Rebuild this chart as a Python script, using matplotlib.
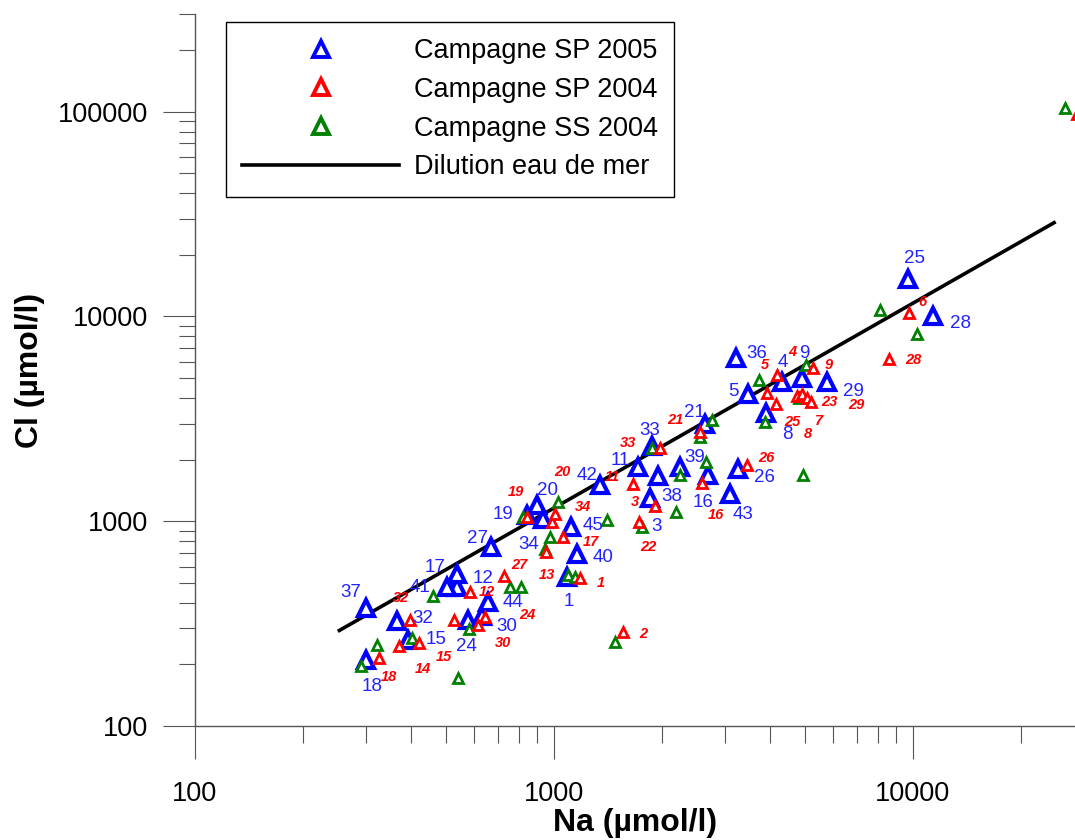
import matplotlib
matplotlib.use("Agg")
import matplotlib.pyplot as plt
from matplotlib.lines import Line2D
from matplotlib.ticker import LogLocator, NullFormatter

plt.rcParams['font.family'] = ['Liberation Sans', 'DejaVu Sans']

# ---------------- data ----------------
# Campagne SP 2005 (blue)
blue_ids = [1, 3, 4, 5, 8, 9, 11, 12, 15, 16, 17, 18, 19, 20, 21, 24, 25, 26, 27, 28,
            29, 30, 32, 33, 34, 36, 37, 38, 39, 40, 41, 42, 43, 44, 45]
blue_na = [1090, 1950, 4320, 3480, 3900, 4910, 1720, 538, 393, 2690, 538, 300, 842, 898,
           2640, 577, 9700, 3260, 669, 11400, 5770, 631, 366, 1880, 933, 3220, 300, 1850,
           2250, 1160, 504, 1340, 3100, 656, 1117]
blue_cl = [537, 1670, 4760, 4200, 3360, 4980, 1830, 475, 262, 1690, 555, 211, 1078, 1206,
           2970, 331, 15300, 1790, 752, 10100, 4760, 343, 327, 2320, 1020, 6300, 375, 1305,
           1850, 688, 475, 1510, 1365, 401, 942]

# Campagne SP 2004 (red)
red_ids = ['18', '14', '15', '32', '', '30', '24', '12', '27', '13', '17', '34', '20', '19',
           '1', '11', '33', '3', '22', '2', '21', '16', '26', '4', '5', '25', '9', '8', '7',
           '23', '29', '6', '28', '']
red_na = [326, 371, 421, 398, 527, 615, 643, 584, 727, 951, 1061, 989, 1008, 842,
          1183, 1662, 1976, 1914, 1727, 1559, 2554, 2587, 3453, 4184, 3926, 4159, 5272, 4758, 4913,
          5073, 5205, 9760, 8584, 28600]
red_cl = [216, 245, 253, 331, 331, 310, 339, 449, 543, 711, 842, 997, 1090, 1054,
          531, 1528, 2290, 1193, 986, 289, 2742, 1545, 1892, 5205, 4251, 3755, 5630, 4110, 4203,
          4018, 3842, 10450, 6230, 97000]

# Campagne SS 2004 (green)
green_na = [322, 290, 461, 541, 403, 580, 755, 810, 1027, 976, 945, 821, 1095, 1146, 1407,
            1761, 2190, 2246, 2655, 2758, 2554, 3876, 4945, 3728, 4826, 5040, 1880, 8120,
            10270, 26550, 1481]
green_cl = [250, 197, 429, 172, 270, 299, 475, 480, 1248, 842, 728, 1054, 549, 537, 1019,
            932, 1115, 1690, 1956, 3137, 2592, 3068, 1690, 4920, 4018, 5822, 2290, 10800,
            8250, 104700, 256]

# Dilution eau de mer
line_na = [250, 25000]
line_cl = [290, 29000]

legend_labels = ['Campagne SP 2005', 'Campagne SP 2004', 'Campagne SS 2004',
                 'Dilution eau de mer']

# label offsets (pixels, x right / y up)
blue_off = [(1, -25), (-1, -51), (1, 20), (-15, 2), (21, -21), (2, 25), (-18, 7), (26, 9),
            (28, 1), (-5, -28), (-22, 6), (6, -27), (-24, 0), (10, 14), (-11, 12), (-2, -27),
            (6, 20), (26, -8), (-14, 8), (27, -8), (26, -9), (25, -10), (26, 2), (-3, 16),
            (-14, -25), (21, 4), (-15, 16), (22, 1), (14, 9), (26, -3), (-27, 0), (-12, 9),
            (13, -21), (25, 0), (22, 1)]
red_off = [(10, -19), (24, -23), (25, -14), (-9, 22), (0, 0), (25, -18), (42, 2), (17, 0),
           (15, 11), (1, -23), (28, -5), (31, 15), (7, 42), (-11, 25), (21, -5), (-21, 7),
           (-32, 5), (-20, 4), (9, -25), (20, -2), (-25, 12), (14, -32), (19, 7), (15, 23),
           (-2, 28), (16, -18), (16, 3), (11, -38), (17, -27), (22, -4), (45, -3), (13, 11),
           (24, -1), (0, 0)]

# ---------------- figure ----------------
W, H = 1075, 840
fig = plt.figure(figsize=(W / 100, H / 100), dpi=100)
ax = fig.add_axes([195 / W, 114 / H, 880 / W, 712 / H])
ax.set_xscale('log')
ax.set_yscale('log')
ax.set_xlim(100, 28300)
ax.set_ylim(100, 300000)

for s in ('top', 'right'):
    ax.spines[s].set_visible(False)
for s in ('left', 'bottom'):
    ax.spines[s].set_color('#555555')
    ax.spines[s].set_linewidth(1.0)

ax.set_xticks([100, 1000, 10000], labels=['100', '1000', '10000'])
ax.set_yticks([100, 1000, 10000, 100000], labels=['100', '1000', '10000', '100000'])
ax.xaxis.set_minor_locator(LogLocator(base=10, subs=range(2, 10)))
ax.yaxis.set_minor_locator(LogLocator(base=10, subs=range(2, 10)))
ax.xaxis.set_minor_formatter(NullFormatter())
ax.yaxis.set_minor_formatter(NullFormatter())
ax.tick_params(axis='x', which='major', length=23.5, width=0.8, color='#555555',
               labelsize=19.5, pad=16)
ax.tick_params(axis='x', which='minor', length=12, width=0.8, color='#555555')
ax.tick_params(axis='y', which='major', length=23, width=0.8, color='#555555',
               labelsize=19.5, pad=11)
ax.tick_params(axis='y', which='minor', length=11.5, width=0.8, color='#555555')

ax.set_xlabel('Na (µmol/l)', fontsize=23, fontweight='bold')
ax.set_ylabel('Cl (µmol/l)', fontsize=23, fontweight='bold')
ax.xaxis.set_label_coords(0.5, (726 - 823) / 712)
ax.xaxis.label.set_va('center')
ax.yaxis.set_label_coords((30 - 195) / 880, 0.5)
ax.yaxis.label.set_va('center')

# dilution line
ax.plot(line_na, line_cl, color='black', lw=2.6, zorder=2, solid_capstyle='butt')

big = dict(ls='none', marker='^', ms=11, mew=3.0, mfc='white')
small = dict(ls='none', marker='^', ms=7, mew=2.0, mfc='white')

ax.plot(blue_na, blue_cl, mec='blue', zorder=3, clip_on=False, **big)
ax.plot(green_na, green_cl, mec='green', zorder=4, clip_on=False, **small)
ax.plot(red_na, red_cl, mec='red', zorder=5, clip_on=False, **small)

for lab, x, y, (dx, dy) in zip(blue_ids, blue_na, blue_cl, blue_off):
    ax.annotate(str(lab), (x, y), xytext=(dx, dy), textcoords='offset pixels',
                ha='center', va='center', color='#2222ff', fontsize=13.5, zorder=6)
for lab, x, y, (dx, dy) in zip(red_ids, red_na, red_cl, red_off):
    if lab:
        ax.annotate(lab, (x, y), xytext=(dx, dy), textcoords='offset pixels',
                    ha='center', va='center', color='red', fontsize=10.5,
                    fontweight='bold', fontstyle='italic', zorder=6)

leg_marker = dict(ls='none', marker='^', ms=11, mew=2.8, mfc='white')
handles = [Line2D([], [], mec='blue', **leg_marker),
           Line2D([], [], mec='red', **leg_marker),
           Line2D([], [], mec='green', **leg_marker),
           Line2D([], [], color='black', lw=2.6)]
leg = ax.legend(handles, legend_labels, loc='upper left',
                bbox_to_anchor=(31 / 880, 1 - 8 / 712), borderaxespad=0,
                fontsize=19.5, handlelength=5.8, handletextpad=0.55, borderpad=0.6,
                labelspacing=0.47, fancybox=False, edgecolor='black', framealpha=1,
                numpoints=1)
leg.get_frame().set_linewidth(1.0)
leg.set_zorder(10)

fig.savefig('out.png', dpi=100)
